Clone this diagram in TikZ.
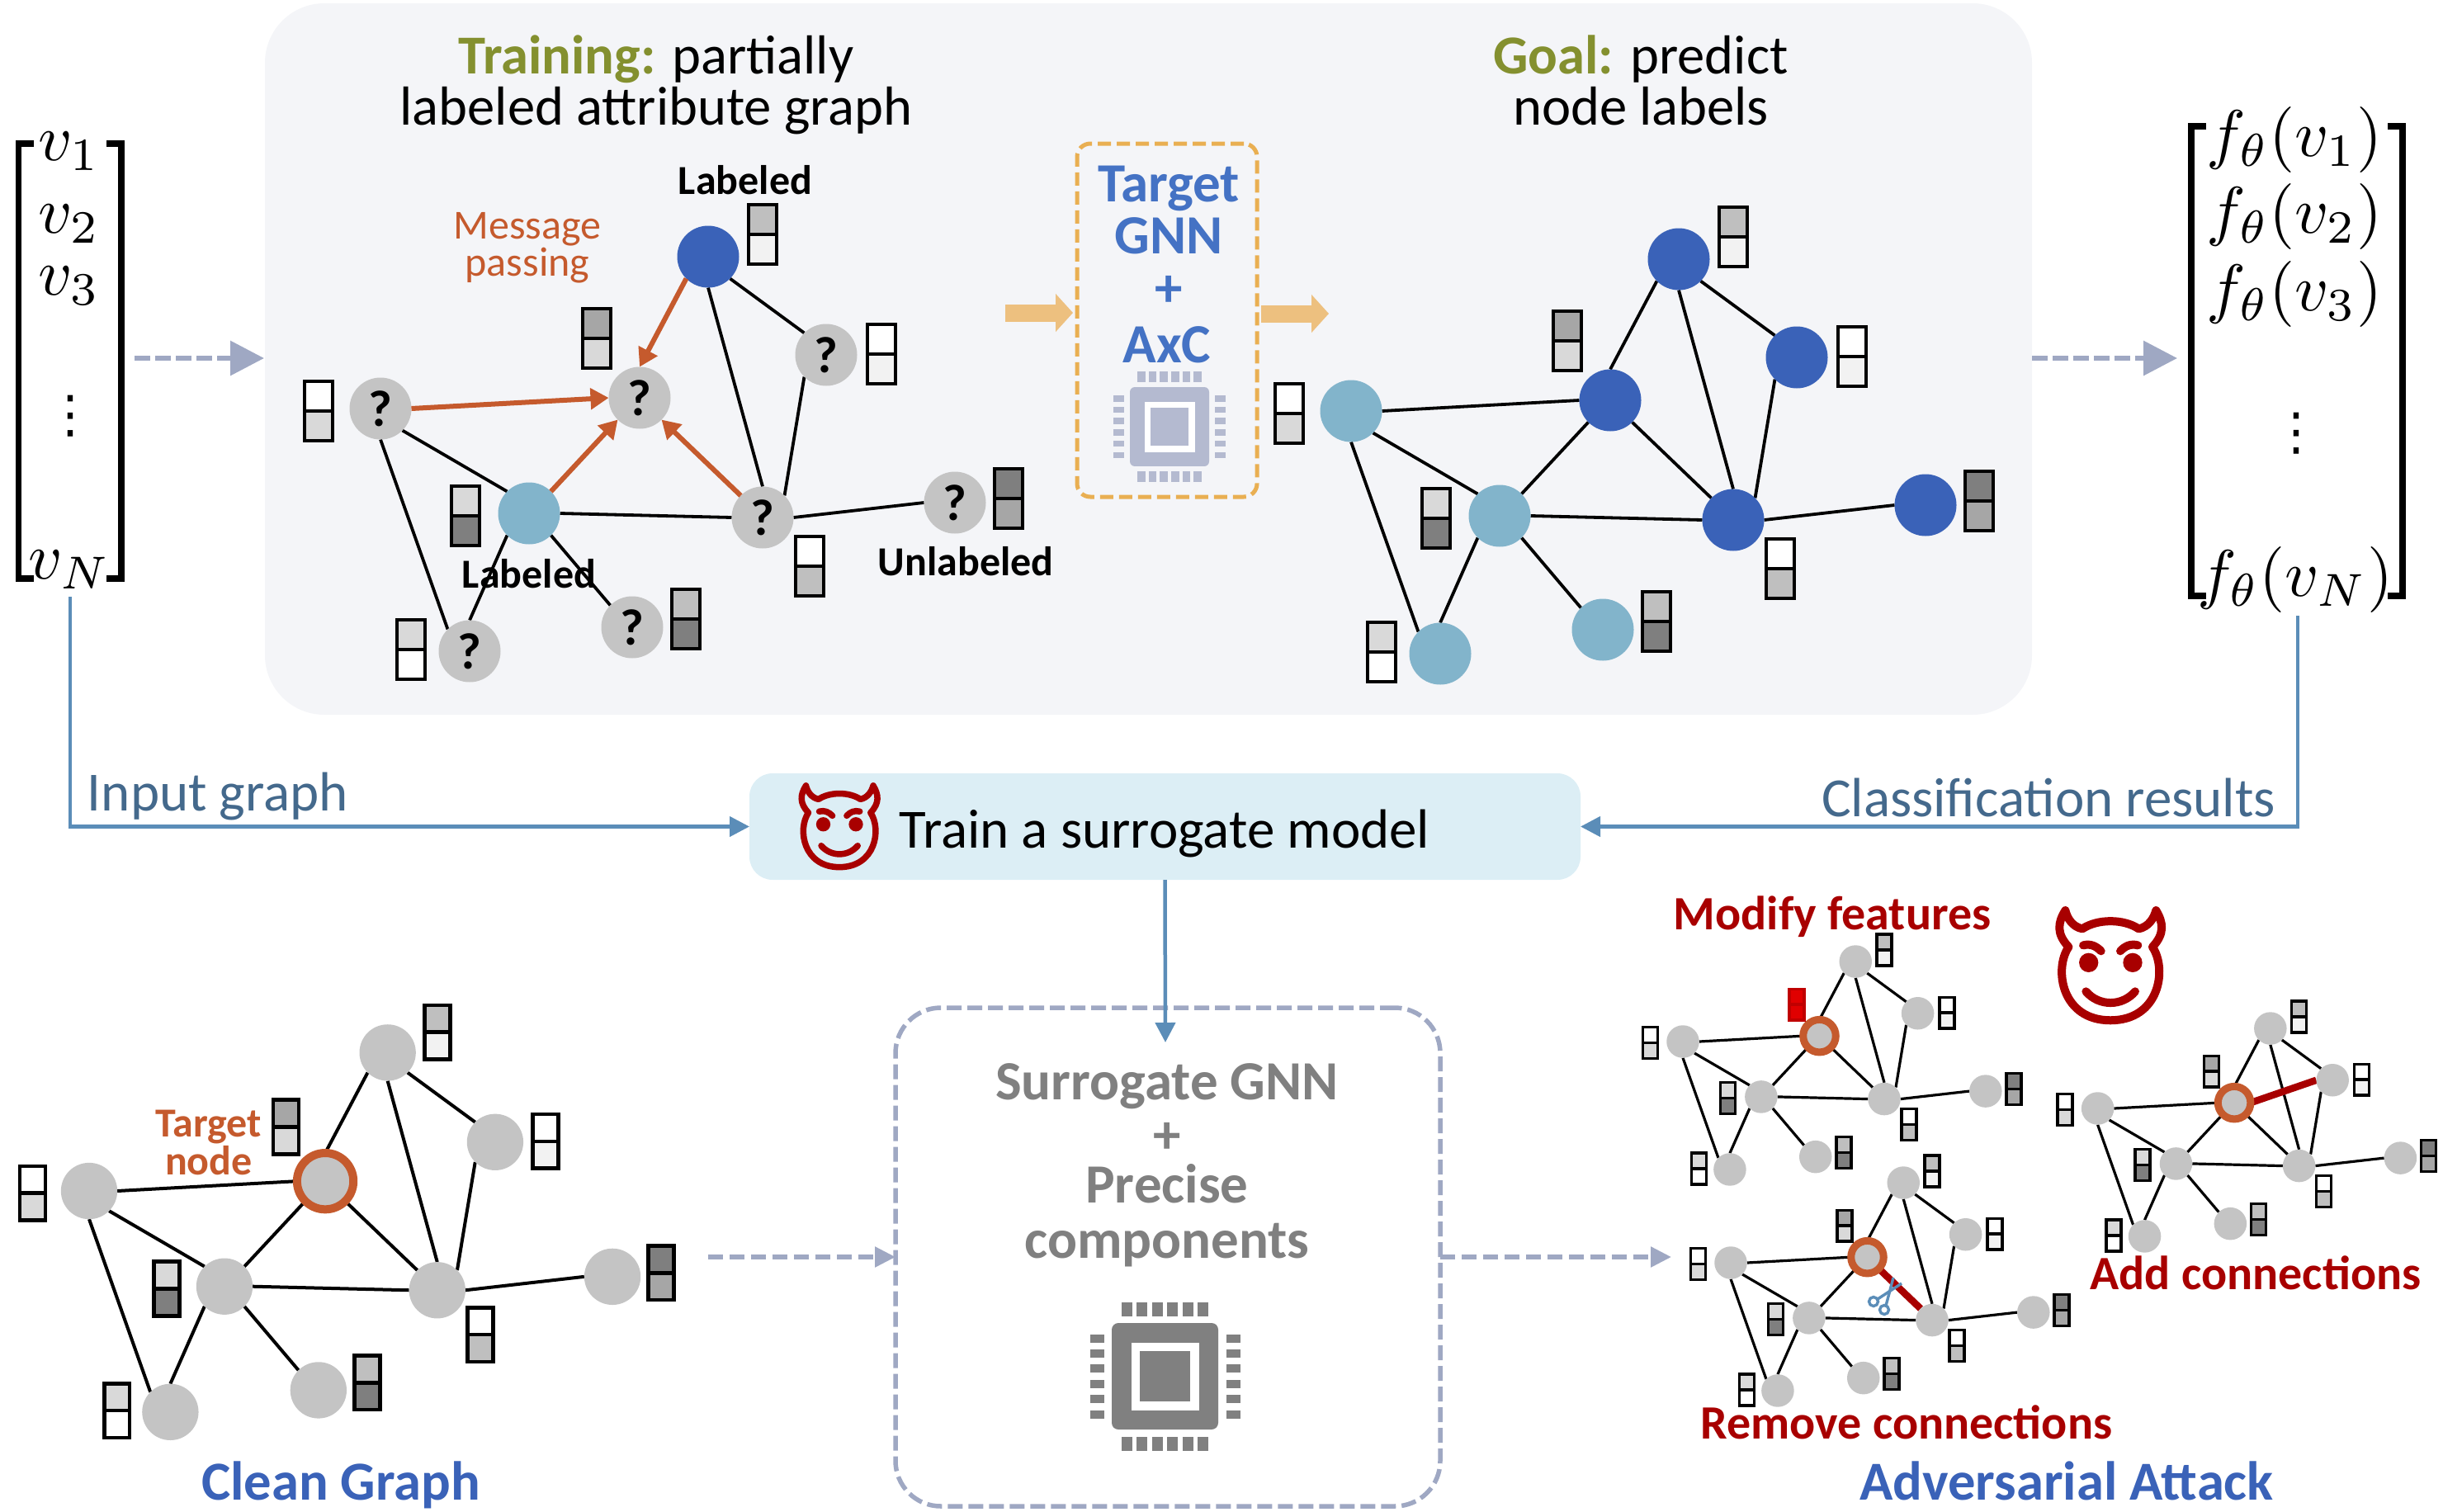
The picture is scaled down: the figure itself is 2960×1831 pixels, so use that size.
\documentclass[tikz,border=0pt]{standalone}
\usepackage[no-math]{fontspec}
\setmainfont{Carlito}
\newfontfamily\djv{DejaVu Sans}
\usetikzlibrary{arrows.meta}
\pgfdeclarelayer{panellayer}
\pgfdeclarelayer{edgelayer}
\pgfsetlayers{panellayer,edgelayer,main}
\definecolor{ringc}{HTML}{C55A2D}
\definecolor{tealn}{HTML}{82B4CB}
\definecolor{bluen}{HTML}{3A62B8}
\definecolor{grayn}{HTML}{C4C4C4}
\definecolor{olivet}{HTML}{84902F}
\definecolor{gnnblue}{HTML}{4472C4}
\definecolor{darkr}{HTML}{A80000}
\definecolor{steelt}{HTML}{44698C}
\definecolor{dashc}{HTML}{9FA8C3}
\definecolor{lineb}{HTML}{5B8DB8}
\definecolor{panelc}{HTML}{F4F5F8}
\definecolor{trainc}{HTML}{DCEEF5}
\definecolor{orangeb}{HTML}{E9AF52}
\definecolor{oranga}{HTML}{EDC07F}
\definecolor{chipl}{HTML}{B4BAD0}
\definecolor{chipd}{HTML}{808080}
\definecolor{gD}{HTML}{D9D9D9}
\definecolor{gA}{HTML}{A6A6A6}
\definecolor{gB}{HTML}{BFBFBF}
\definecolor{gF}{HTML}{F2F2F2}
\definecolor{g7}{HTML}{7F7F7F}
\definecolor{redf}{HTML}{E00000}
\definecolor{redd}{HTML}{C00000}
\newcommand\fsz[2]{\fontsize{#1}{#2}\selectfont}
\tikzset{
  gnode/.style={circle,minimum size=75pt,inner sep=0pt,outer sep=0pt,font=\fsz{62}{62}\bfseries},
  bopts/.style={},
  cell/.style={rectangle,draw=black,minimum width=34pt,minimum height=36pt,inner sep=0pt,outer sep=0pt},
  gedge/.style={draw=black},
  msgarrow/.style={draw=ringc,line width=6pt,-{Triangle[length=22pt,width=25pt]}},
  bigdash/.style={draw=dashc,line width=6.5pt,dash pattern=on 19pt off 6pt,-{Triangle[length=41pt,width=41pt]}},
  smalldash/.style={draw=dashc,line width=5.5pt,dash pattern=on 18pt off 8pt,-{Triangle[length=25pt,width=24pt]}},
  bluearrow/.style={draw=lineb,line width=4.5pt,-{Triangle[length=24pt,width=24pt]}},
  blockarrow/.style={draw=oranga,line width=21pt,-{Triangle[length=21pt,width=45pt]}},
  redge/.style={draw=darkr,line width=8.5pt},
  ttxt/.style={anchor=base,inner sep=0pt,align=center},
  mathtxt/.style={anchor=base,inner sep=0pt,scale=8},
  bracket/.style={draw=black,line width=7.5pt,line join=miter},
}
\newcommand\setfills[9]{\def\cA{#1}\def\cB{#2}\def\cC{#3}\def\cD{#4}\def\cE{#5}\def\cF{#6}\def\cG{#7}\def\cH{#8}\def\cI{#9}}
\newcommand\setmarks[9]{\def\qA{#1}\def\qB{#2}\def\qC{#3}\def\qD{#4}\def\qE{#5}\def\qF{#6}\def\qG{#7}\def\qH{#8}\def\qI{#9}}
\newcommand\featbox[6][black]{%
  \node[cell,draw=#1,fill=#5] (#2t) at (#3,#4-18) {};
  \node[cell,draw=#1,fill=#6] (#2b) at (#3,#4+18) {};}
\newcommand\gnn[6]{%
\begin{scope}[shift={(#2,#3)},scale=#4,transform shape]
  \node[gnode,fill=\cA] (#1A) at (0,0) {\qA};
  \node[gnode,fill=\cB,bopts] (#1B) at (314,-13) {\qB};
  \node[gnode,fill=\cC] (#1C) at (397,-184) {\qC};
  \node[gnode,fill=\cD] (#1D) at (540,-65) {\qD};
  \node[gnode,fill=\cE] (#1E) at (180,127) {\qE};
  \node[gnode,fill=\cF] (#1F) at (463,132) {\qF};
  \node[gnode,fill=\cG] (#1G) at (696,114) {\qG};
  \node[gnode,fill=\cH] (#1H) at (108,294) {\qH};
  \node[gnode,fill=\cI] (#1I) at (305,265) {\qI};
  \begin{scope}[line width=#6]
  \featbox{#1bA}{-75}{3}{white}{gD}
  \featbox[\Bd]{#1bB}{262}{-85}{\Bt}{\Bb}
  \featbox{#1bC}{463}{-211}{gB}{gF}
  \featbox{#1bD}{607}{-66}{white}{gF}
  \featbox{#1bE}{103}{130}{gD}{g7}
  \featbox{#1bF}{520}{191}{white}{gB}
  \featbox{#1bG}{761}{109}{g7}{gA}
  \featbox{#1bH}{37}{292}{gD}{white}
  \featbox{#1bI}{370}{255}{gB}{g7}
  \end{scope}
  \begin{pgfonlayer}{edgelayer}
  \draw[gedge,line width=#5]
     (#1A.-45)--(#1E.135) (#1A.270)--(#1H.135)
     (#1E.0)--(#1F.180) (#1E.225)--(#1H.90) (#1E.-45)--(#1I.135)
     (#1C.270)--(#1F.90) (#1C.-45)--(#1D.135) (#1D.225)--(#1F.45) (#1F.0)--(#1G.180);
  \end{pgfonlayer}
\end{scope}}
\newcommand\chipicon[4]{%
\begin{scope}[shift={(#1,#2)},scale=#3]
  \fill[#4,rounded corners=8pt*#3] (-64.5,-64.5) rectangle (64.5,64.5);
  \fill[white] (-41,-41) rectangle (41,41);
  \fill[#4] (-30.5,-30.5) rectangle (30.5,30.5);
  \foreach \o in {-46,-27.6,-9.2,9.2,27.6,46}{
    \fill[#4] (\o-6.5,-90) rectangle (\o+6.5,-73);
    \fill[#4] (\o-6.5,73) rectangle (\o+6.5,90);
    \fill[#4] (-91,\o-5) rectangle (-74,\o+5);
    \fill[#4] (74,\o-5) rectangle (91,\o+5);
  }
\end{scope}}
\newcommand\devil[4]{% cx cy k lw
\begin{scope}[shift={({#1-262*#3},{#2-250*#3})},scale=#3,line width=#4,line cap=round,line join=round,draw=darkr,fill=darkr]
  \draw (110,188) .. controls (55,270) and (85,455) .. (262,455)
     .. controls (440,455) and (470,270) .. (415,188)
     .. controls (460,140) and (455,100) .. (428,55)
     .. controls (420,85) and (400,115) .. (365,122)
     .. controls (310,85) and (215,85) .. (160,122)
     .. controls (125,115) and (105,85) .. (98,55)
     .. controls (70,100) and (65,140) .. (110,188) -- cycle;
  \fill (183,245) circle (35);
  \fill (343,245) circle (35);
  \draw (163,182) .. controls (190,175) and (210,185) .. (228,203);
  \draw (362,182) .. controls (335,175) and (315,185) .. (298,203);
  \draw (173,350) .. controls (220,405) and (305,405) .. (352,350);
\end{scope}}
\begin{document}
\begin{tikzpicture}[x=1pt,y=-1pt]
\useasboundingbox (0,0) rectangle (2960,1831);
\begin{pgfonlayer}{panellayer}
  \node[fill=panelc,rounded corners=72pt,minimum width=2141pt,minimum height=862pt,inner sep=0pt,outer sep=0pt] (panel) at (1391.5,435) {};
  \node[fill=trainc,rounded corners=28pt,minimum width=1007pt,minimum height=129pt,inner sep=0pt,outer sep=0pt] (trainbox) at (1411.5,1001.5) {};
\end{pgfonlayer}
% default look
\def\Bt{gA}\def\Bb{gD}\def\Bd{black}
% titles
\node[ttxt,font=\fsz{66.6}{62}] (t1) at (795,151) {{\bfseries\color{olivet}Training:} partially\\labeled attribute graph};
\node[ttxt,font=\fsz{66.6}{62}] (t2) at (1988,151) {{\bfseries\color{olivet}Goal:} predict\\node labels};
% training graph
\setfills{grayn}{grayn}{bluen}{grayn}{tealn}{grayn}{grayn}{grayn}{grayn}
\setmarks{?}{?}{}{?}{}{?}{?}{?}{?}
\gnn{tr}{461}{495}{1}{3.8pt}{4.6pt}
\draw[msgarrow] (trA.0)--(trB.180);
\draw[msgarrow] (trC.225)--(trB.90);
\draw[msgarrow] (trE.45)--(trB.225);
\draw[msgarrow] (trF.135)--(trB.-45);
\node[ttxt,font=\fsz{50}{45},text=ringc] (msg) at (639,334) {Message\\passing};
\node[ttxt,font=\fsz{50}{50}\bfseries] (lab1) at (903,235) {Labeled};
\node[ttxt,font=\fsz{50}{50}\bfseries] (lab2) at (641,712) {Labeled};
\node[ttxt,font=\fsz{50}{50}\bfseries] (lab3) at (1170,697) {Unlabeled};
% goal graph
\setfills{tealn}{bluen}{bluen}{bluen}{tealn}{bluen}{bluen}{tealn}{tealn}
\setmarks{}{}{}{}{}{}{}{}{}
\gnn{go}{1637}{498}{1}{3.8pt}{4.6pt}
\begin{pgfonlayer}{edgelayer}
\draw[gedge,line width=3.8pt] (goA.0)--(goB.180) (goB.90)--(goC.225) (goB.225)--(goE.45) (goB.-45)--(goF.135);
\end{pgfonlayer}
% target box
\node[draw=orangeb,line width=5pt,dash pattern=on 16pt off 7pt,rounded corners=16pt,minimum width=218pt,minimum height=428pt,inner sep=0pt] (tbox) at (1414,388) {};
\node[ttxt,font=\fsz{67}{67}\bfseries,text=gnnblue] (tg1) at (1416,244) {Target};
\node[ttxt,font=\fsz{67}{67}\bfseries,text=gnnblue] (tg2) at (1416,307) {GNN};
\node[ttxt,font=\fsz{67}{67}\bfseries,text=gnnblue] (tg3) at (1416,371) {+};
\node[ttxt,font=\fsz{67}{67}\bfseries,text=gnnblue] (tg4) at (1414,439) {AxC};
\chipicon{1417}{517}{.744}{chipl}
\coordinate (ba1) at (1218,379); \coordinate (ba2) at (1300,379);
\coordinate (ba3) at (1528,380); \coordinate (ba4) at (1610,380);
\draw[blockarrow] (ba1)--(ba2);
\draw[blockarrow] (ba3)--(ba4);
% matrices
\draw[bracket] (41,174)--(22.5,174)--(22.5,701)--(41,701);
\draw[bracket] (129,174)--(147,174)--(147,701)--(129,701);
\node[mathtxt] (v1) at (84,194) {$v_1$};
\node[mathtxt] (v2) at (84,282) {$v_2$};
\node[mathtxt] (v3) at (84,357) {$v_3$};
\node[ttxt,font=\fsz{62}{62}\djv] (vd) at (85,523) {⋮};
\node[mathtxt] (vn) at (84,701) {$v_N$};
\draw[bracket] (2673,153)--(2655,153)--(2655,722)--(2673,722);
\draw[bracket] (2893,153)--(2911,153)--(2911,722)--(2893,722);
\node[mathtxt] (f1) at (2780,189) {$f_\theta(v_1)$};
\node[mathtxt] (f2) at (2780,282) {$f_\theta(v_2)$};
\node[mathtxt] (f3) at (2780,376) {$f_\theta(v_3)$};
\node[ttxt,font=\fsz{62}{62}\djv] (fd) at (2782,544) {⋮};
\node[mathtxt] (fn) at (2781,722) {$f_\theta(v_N)$};
\coordinate (la1) at (163,434); \coordinate (la2) at (320,434);
\coordinate (ra1) at (2462,434); \coordinate (ra2) at (2638,434);
\draw[bigdash] (la1)--(la2);
\draw[bigdash] (ra1)--(ra2);
% blue connectors
\coordinate (lb) at (85,723); \coordinate (rb) at (2784,746);
\draw[bluearrow] (lb) |- (trainbox.west);
\draw[bluearrow] (rb) |- (trainbox.east);
\node[ttxt,font=\fsz{67}{67},text=steelt] (ig) at (264,982) {Input graph};
\node[ttxt,font=\fsz{67}{67},text=steelt] (cr) at (2482,989) {Classification results};
\devil{1017}{1000}{.247}{7.5pt}
\node[ttxt,font=\fsz{67}{67}] (tm) at (1411,1027) {Train a surrogate model};
% surrogate
\node[draw=dashc,line width=5.5pt,dash pattern=on 18pt off 7pt,rounded corners=55pt,minimum width=660pt,minimum height=604pt,inner sep=0pt,outer sep=0pt] (surr) at (1415,1523) {};
\coordinate (dn) at (1412,1263);
\draw[bluearrow] (trainbox.south)--(dn);
\node[ttxt,font=\fsz{67}{67}\bfseries,text=chipd] (s1) at (1414,1332) {Surrogate GNN};
\node[ttxt,font=\fsz{67}{67}\bfseries,text=chipd] (s2) at (1414,1397) {+};
\node[ttxt,font=\fsz{67}{67}\bfseries,text=chipd] (s3) at (1414,1457) {Precise};
\node[ttxt,font=\fsz{67}{67}\bfseries,text=chipd] (s4) at (1414,1524) {components};
\chipicon{1411.5}{1667.5}{1}{chipd}
\coordinate (sl) at (858,1523); \coordinate (sr) at (2025,1523);
\draw[smalldash] (sl)--(surr.west);
\draw[smalldash] (surr.east)--(sr);
% clean graph
\setfills{grayn}{grayn}{grayn}{grayn}{grayn}{grayn}{grayn}{grayn}{grayn}
\tikzset{bopts/.style={draw=ringc,line width=10pt}}
\gnn{cl}{108}{1443}{.911}{4pt}{4.6pt}
\begin{pgfonlayer}{edgelayer}
\draw[gedge,line width=4pt] (clA.0)--(clB.180) (clB.90)--(clC.225) (clB.225)--(clE.45) (clB.-45)--(clF.135);
\end{pgfonlayer}
\node[ttxt,font=\fsz{50}{46}\bfseries,text=ringc] (tn) at (253,1423) {Target\\node};
\node[ttxt,font=\fsz{66.6}{64}\bfseries,text=bluen] (cg) at (413,1817) {Clean Graph};
% attacks
\tikzset{bopts/.style={draw=ringc,line width=9pt}}
\def\Bt{redf}\def\Bb{redf}\def\Bd{redd}
\gnn{mo}{2039}{1262}{.527}{3.2pt}{3.5pt}
\def\Bt{gA}\def\Bb{gD}\def\Bd{black}
\begin{pgfonlayer}{edgelayer}
\draw[gedge,line width=3.2pt] (moA.0)--(moB.180) (moB.90)--(moC.225) (moB.225)--(moE.45) (moB.-45)--(moF.135);
\end{pgfonlayer}
\gnn{ad}{2541.6}{1343}{.527}{3.2pt}{3.5pt}
\begin{pgfonlayer}{edgelayer}
\draw[gedge,line width=3.2pt] (adA.0)--(adB.180) (adB.90)--(adC.225) (adB.225)--(adE.45) (adB.-45)--(adF.135);
\draw[redge] (adB.0)--(adD.180);
\end{pgfonlayer}
\gnn{re}{2097}{1530}{.527}{3.2pt}{3.5pt}
\begin{pgfonlayer}{edgelayer}
\draw[gedge,line width=3.2pt] (reA.0)--(reB.180) (reB.90)--(reC.225) (reB.225)--(reE.45);
\draw[redge] (reB.-45)--(reF.135);
\end{pgfonlayer}
% scissors
\begin{scope}[draw=lineb,line width=3.4pt]
\draw (2270,1577) circle (5.5);
\draw (2283,1587) circle (5.5);
\draw (2275,1574)--(2304,1555);
\draw (2285,1582)--(2294,1548);
\end{scope}
\devil{2557}{1168}{.333}{10pt}
\node[ttxt,font=\fsz{58}{58}\bfseries,text=darkr] (mf) at (2220,1126) {Modify features};
\node[ttxt,font=\fsz{58}{58}\bfseries,text=darkr] (ac) at (2733,1562) {Add connections};
\node[ttxt,font=\fsz{58}{58}\bfseries,text=darkr] (rc) at (2310,1743) {Remove connections};
\node[ttxt,font=\fsz{66.6}{64}\bfseries,text=bluen] (aa) at (2504,1817) {Adversarial Attack};
\end{tikzpicture}
\end{document}
